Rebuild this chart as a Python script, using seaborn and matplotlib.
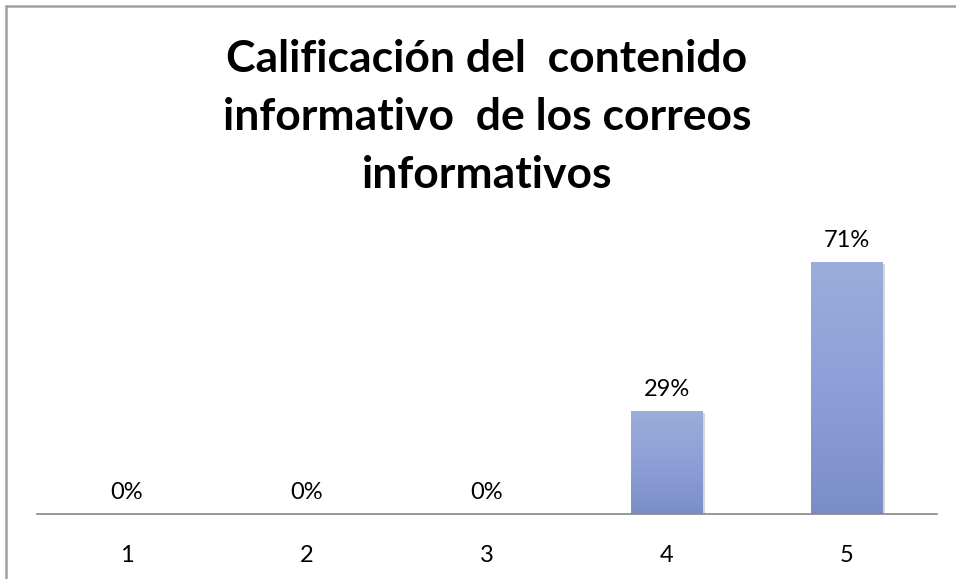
import numpy as np
import pandas as pd
import seaborn as sns
import matplotlib.pyplot as plt
from matplotlib.lines import Line2D
from matplotlib.colors import LinearSegmentedColormap
import matplotlib.patheffects as pe

categorias = ["1", "2", "3", "4", "5"]
porcentajes = [0.0, 0.0, 0.0, 0.29, 0.71]
etiquetas = ["0%", "0%", "0%", "29%", "71%"]
titulo = "Calificación del  contenido\ninformativo  de los correos\ninformativos"

df = pd.DataFrame({"cat": categorias, "pct": porcentajes})

sns.set_theme(style="white")
plt.rcParams["font.family"] = ["Lato", "DejaVu Sans"]

fig = plt.figure(figsize=(9.56, 5.79), dpi=100)
ax = fig.add_axes([37 / 956, 1 - 514 / 579, 900 / 956, (514 - 230) / 579])

sns.barplot(data=df, x="cat", y="pct", color="#8C9FD6", width=0.4,
            linewidth=0, ax=ax)

# degradado en cada barra
cmap = LinearSegmentedColormap.from_list("g", ["#7A8EC6", "#8E9FD8", "#9BADDA"])
grad = np.linspace(0, 1, 256).reshape(-1, 1)
for p in ax.patches:
    x0, y0 = p.get_x(), p.get_y()
    w, h = p.get_width(), p.get_height()
    if h <= 0:
        continue
    p.set_path_effects([pe.SimplePatchShadow(offset=(1.5, -1.5), shadow_rgbFace="#8a8a8a", alpha=0.35), pe.Normal()])
    im = ax.imshow(grad, extent=[x0, x0 + w, y0, y0 + h], origin="lower",
                   cmap=cmap, aspect="auto", zorder=p.get_zorder() + 0.1)
    im.set_clip_path(p)

ax.set_xlim(-0.5, 4.5)
ax.set_ylim(0, 0.8)
ax.bar_label(ax.containers[0], labels=etiquetas, padding=8, fontsize=17, color="#000000")

ax.set_xlabel("")
ax.set_ylabel("")
ax.set_yticks([])
ax.tick_params(axis="x", length=0, pad=22, labelsize=17, labelcolor="#000000")
for s in ["top", "right", "left"]:
    ax.spines[s].set_visible(False)
ax.spines["bottom"].set_color("#868686")
ax.spines["bottom"].set_linewidth(1.2)

fig.text(487 / 956, 1 - 117 / 579, titulo, ha="center", va="center",
         fontsize=32, fontweight="bold", linespacing=1.55, color="#000000")

# marco del gráfico (solo arriba e izquierda visibles)
fig.add_artist(Line2D([5.5 / 956, 1.0], [1 - 5.5 / 579, 1 - 5.5 / 579],
                      transform=fig.transFigure, color="#a0a0a0", lw=1.8))
fig.add_artist(Line2D([5.5 / 956, 5.5 / 956], [0.0, 1 - 5.5 / 579],
                      transform=fig.transFigure, color="#a0a0a0", lw=1.8))

fig.savefig("out.png", dpi=100)
